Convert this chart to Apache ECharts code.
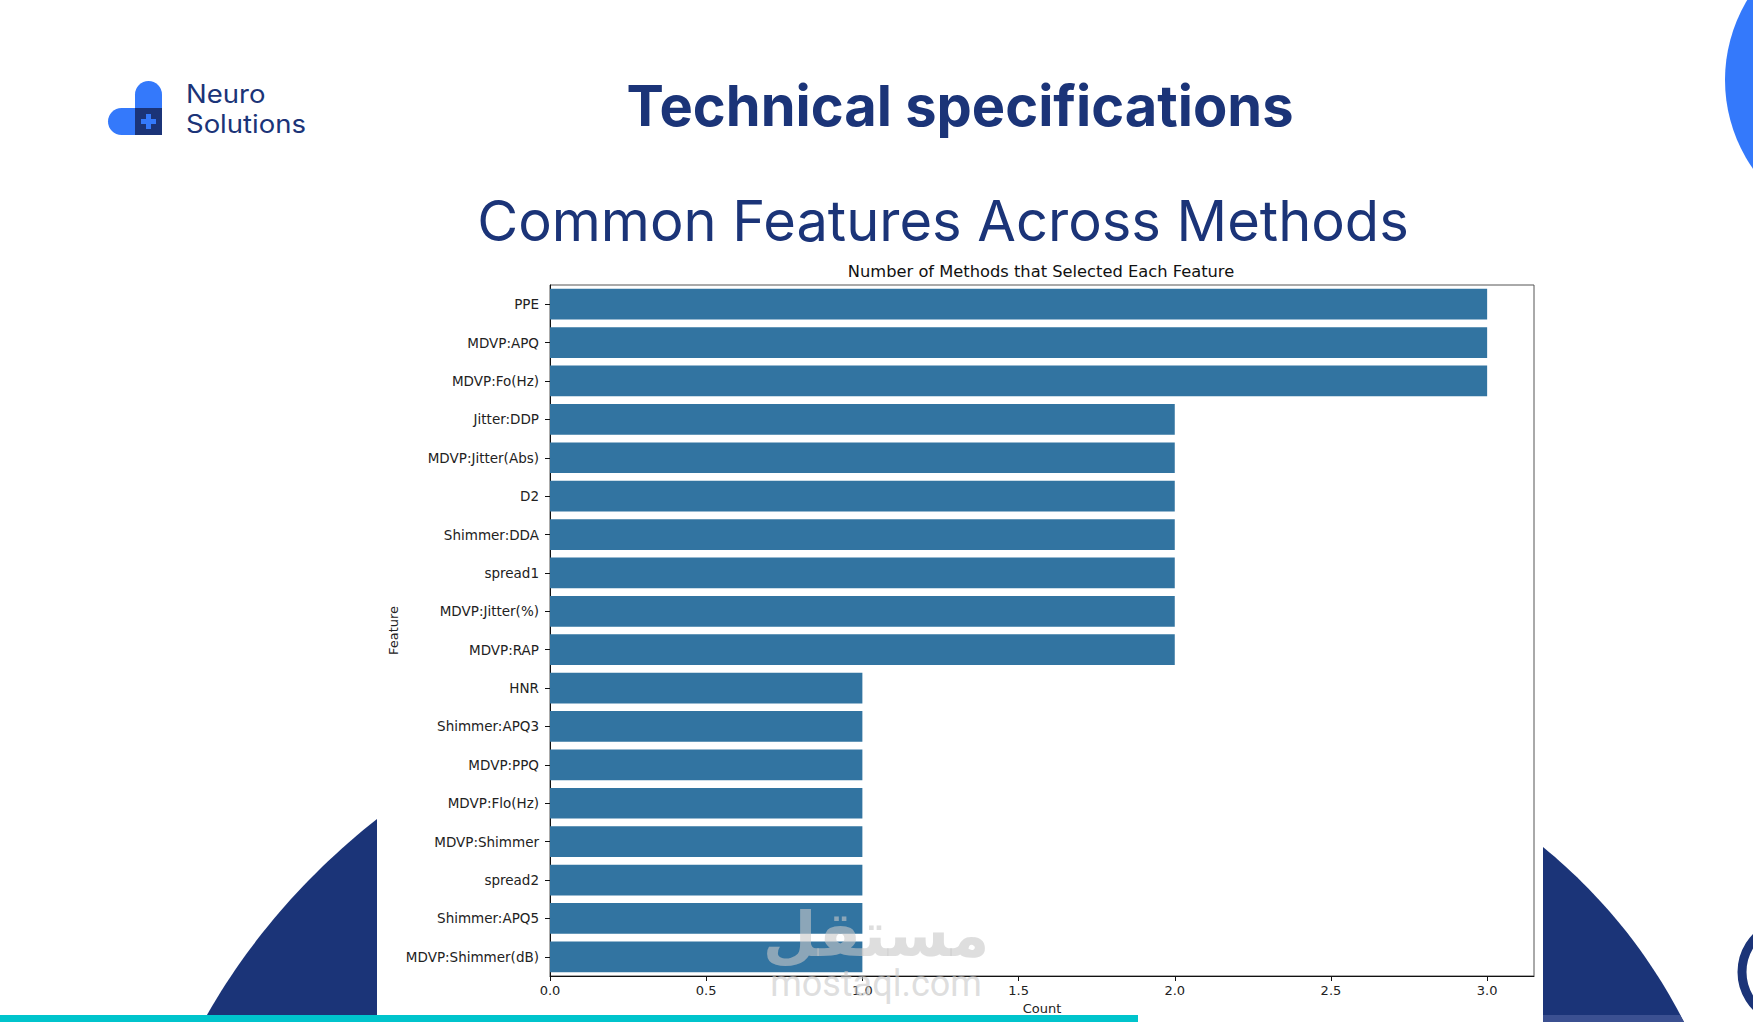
<!DOCTYPE html>
<html>
<head>
<meta charset="utf-8">
<script src="https://cdn.jsdelivr.net/npm/echarts@6/dist/echarts.min.js"></script>
<style>
html,body{margin:0;padding:0;background:#fff;}
#chart{width:1753px;height:1022px;}
</style>
</head>
<body>
<div id="chart"></div>
<script>
// ---- data ----
const features = ["PPE","MDVP:APQ","MDVP:Fo(Hz)","Jitter:DDP","MDVP:Jitter(Abs)","D2","Shimmer:DDA","spread1","MDVP:Jitter(%)","MDVP:RAP","HNR","Shimmer:APQ3","MDVP:PPQ","MDVP:Flo(Hz)","MDVP:Shimmer","spread2","Shimmer:APQ5","MDVP:Shimmer(dB)"];
const counts = [3,3,3,2,2,2,2,2,2,2,1,1,1,1,1,1,1,1];
const xTicks = [0,0.5,1.0,1.5,2.0,2.5,3.0];
const pageTitle = "Technical specifications";
const pageSubtitle = "Common Features Across Methods";
const chartTitle = "Number of Methods that Selected Each Feature";
const brandLines = ["Neuro","Solutions"];

const NAVY = '#1b3478';
const BLUE = '#3479fb';
const FONT = 'DejaVu Sans';

// helper for decorative curved shapes (quadratic curve sampled)
function quad(p0, c, p1, n) {
  const pts = [];
  for (let i = 0; i <= n; i++) {
    const t = i / n, u = 1 - t;
    pts.push([u*u*p0[0] + 2*u*t*c[0] + t*t*p1[0], u*u*p0[1] + 2*u*t*c[1] + t*t*p1[1]]);
  }
  return pts;
}
const leftShape = [[377,1022]].concat(quad([203,1022],[268,905],[377,819],30));
const rightShape = quad([1543,847],[1632,920],[1684,1022],30).concat([[1543,1022]]);

const chart = echarts.init(document.getElementById('chart'), null, {renderer:'svg'});

const option = {
  backgroundColor:'#ffffff',
  animation:false,
  grid:{left:550,right:219,top:285,bottom:46,show:true,borderColor:'#555',borderWidth:1,backgroundColor:'transparent'},
  xAxis:{
    type:'value', min:0, max:3.15, interval:0.5,
    name:'Count', nameLocation:'middle', nameGap:26,
    nameTextStyle:{fontFamily:FONT,fontSize:13,color:'#222'},
    axisLine:{show:true,lineStyle:{color:'#111',width:1}},
    axisTick:{show:true,length:5,lineStyle:{color:'#111'},customValues:xTicks},
    axisLabel:{fontFamily:FONT,fontSize:13,color:'#222',margin:8,customValues:xTicks,
      formatter:v=>Number(v).toFixed(1)},
    splitLine:{show:false}
  },
  yAxis:{
    type:'category', data:features, inverse:true,
    name:'Feature', nameLocation:'middle', nameGap:150, nameRotate:90, nameMoveOverlap:false,
    nameTextStyle:{fontFamily:FONT,fontSize:13,color:'#222'},
    axisLine:{show:true,lineStyle:{color:'#111',width:1}},
    axisTick:{show:true,alignWithLabel:true,length:5,lineStyle:{color:'#111'}},
    axisLabel:{fontFamily:FONT,fontSize:13.5,color:'#222',margin:11,interval:0},
    splitLine:{show:false}
  },
  series:[{
    type:'bar', data:counts, barCategoryGap:'20%',
    itemStyle:{color:'#3274a1'}
  }],
  graphic:[
    {type:'circle',shape:{cx:1880,cy:80,r:155},style:{fill:BLUE},z:0},
    {type:'polygon',shape:{points:leftShape},style:{fill:NAVY},z:0},
    {type:'polygon',shape:{points:rightShape},style:{fill:NAVY},z:0},
    {type:'polygon',shape:{points:[[1543,1015],[1680,1015],[1684,1022],[1543,1022]]},style:{fill:'#3b5091'},z:1},
    {type:'circle',shape:{cx:1792,cy:972,r:50},style:{fill:'none',stroke:NAVY,lineWidth:9},z:0},
    {type:'rect',shape:{x:0,y:1015,width:1138,height:7},style:{fill:'#00c4cc'},z:2},
    {type:'rect',shape:{x:135,y:81,width:27,height:54,r:[13.5,13.5,0,0]},style:{fill:BLUE},z:1},
    {type:'rect',shape:{x:108,y:108,width:54,height:27,r:[13.5,0,0,13.5]},style:{fill:BLUE},z:1},
    {type:'rect',shape:{x:135,y:108,width:27,height:27},style:{fill:NAVY},z:2},
    {type:'rect',shape:{x:141,y:119,width:15,height:5},style:{fill:BLUE},z:3},
    {type:'rect',shape:{x:146,y:114,width:5,height:15},style:{fill:BLUE},z:3},
    {type:'text',x:186,y:94,scaleX:1.1,style:{text:brandLines[0],fontFamily:'Inter',fontSize:25,fill:NAVY,textVerticalAlign:'middle'},z:3},
    {type:'text',x:186,y:124,scaleX:1.1,style:{text:brandLines[1],fontFamily:'Inter',fontSize:25,fill:NAVY,textVerticalAlign:'middle'},z:3},
    {type:'text',x:960,y:106,style:{text:pageTitle,fontFamily:'Inter',fontWeight:'bold',fontSize:56,fill:NAVY,textAlign:'center',textVerticalAlign:'middle'},z:3},
    {type:'text',x:943,y:221,style:{text:pageSubtitle,fontFamily:'Inter',fontSize:56,fill:NAVY,textAlign:'center',textVerticalAlign:'middle'},z:3},
    {type:'text',x:1041,y:271,style:{text:chartTitle,fontFamily:FONT,fontSize:16.3,fill:'#111',textAlign:'center',textVerticalAlign:'middle'},z:3},
    {type:'text',x:876,y:934,style:{text:'مستقل',fontFamily:FONT,fontWeight:'bold',fontSize:62,fill:'rgba(200,200,200,0.6)',textAlign:'center',textVerticalAlign:'middle'},z:50},
    {type:'text',x:876,y:984,style:{text:'mostaql.com',fontFamily:'Roboto',fontSize:36,fill:'rgba(200,200,200,0.6)',textAlign:'center',textVerticalAlign:'middle'},z:50}
  ]
};
chart.setOption(option);
</script>
</body>
</html>
